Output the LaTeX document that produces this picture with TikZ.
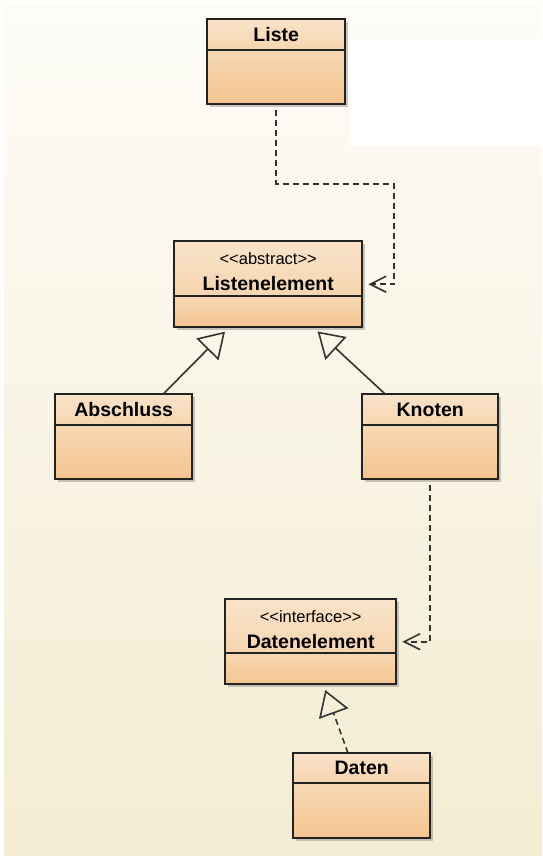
\documentclass[tikz,border=0pt]{standalone}
\usepackage{fontspec}
\setmainfont{Liberation Sans}
\usetikzlibrary{arrows.meta,calc,shadows}

\definecolor{bgtop}{HTML}{FDFCF7}
\definecolor{bgbot}{HTML}{F4ECD2}
\definecolor{headtop}{HTML}{F9E3C9}
\definecolor{headbot}{HTML}{F6D5AF}
\definecolor{bodytop}{HTML}{F7D8B4}
\definecolor{bodybot}{HTML}{F4C48F}
\definecolor{frame}{HTML}{222222}
\definecolor{wire}{HTML}{333333}

\tikzset{
  clsframe/.style={draw=none, fill=bodybot, inner sep=0pt,
    drop shadow={shadow xshift=2.5pt, shadow yshift=-2.5pt, opacity=0.35, fill=black!60}},
  clshead/.style={draw=none, inner sep=0pt, top color=headtop, bottom color=headbot},
  clsbody/.style={draw=none, inner sep=0pt, top color=bodytop, bottom color=bodybot},
  clsline/.style={draw=frame, line width=2pt},
  clsname/.style={font=\fontsize{19.5}{22}\selectfont\bfseries, inner sep=0pt},
  clsstereo/.style={font=\fontsize{16.5}{19}\selectfont, inner sep=0pt, anchor=base},
  gen/.style={draw=wire, line width=1.6pt, shorten >=6pt,
    -{Triangle[open, length=25pt, width=31pt, line width=1.6pt]}},
  realize/.style={gen, dash pattern=on 6pt off 4pt},
  dep/.style={draw=wire, line width=1.6pt, dash pattern=on 6pt off 4pt,
    shorten <=6pt, shorten >=6pt,
    -{Straight Barb[length=16pt, width=16pt, line width=1.6pt]}},
}

% class box: #1 name, #2 x, #3 y, #4 width, #5 header height, #6 body height
\newcommand{\umlbox}[6]{%
  \node[clsframe, minimum width=#4, minimum height=#5+#6, anchor=north west] (#1) at (#2,#3) {};
  \node[clshead, minimum width=#4, minimum height=#5, anchor=north] (#1-h) at (#1.north) {};
  \node[clsbody, minimum width=#4, minimum height=#6, anchor=north] (#1-b) at (#1-h.south) {};
  \draw[clsline] (#1.north west) rectangle (#1.south east);
  \draw[clsline] (#1-h.south west) -- (#1-h.south east);
}

\begin{document}
\begin{tikzpicture}[x=1pt, y=-1pt]
  % page and backdrop
  \fill[white] (0,0) rectangle (542,857);
  \useasboundingbox (0,0) rectangle (542,857);
  \shade[top color=bgtop, bottom color=bgbot] (4,3) rectangle (542,855);
  \fill[white] (349,39) rectangle (542,146);

  % classes
  \umlbox{liste}{207}{19}{138}{31}{54}
  \node[clsname] (liste-n) at (liste-h) {Liste};

  \umlbox{le}{174}{241}{188}{55}{31}
  \node[clsstereo] (le-s) at ($(le.north)+(0,23)$) {<\kern0pt<abstract>\kern0pt>};
  \node[clsname, anchor=base] (le-n) at ($(le.north)+(0,49)$) {Listenelement};

  \umlbox{abs}{55}{394}{137}{31}{54}
  \node[clsname] (abs-n) at (abs-h) {Abschluss};

  \umlbox{kn}{362}{394}{136}{31}{54}
  \node[clsname] (kn-n) at (kn-h) {Knoten};

  \umlbox{de}{225}{599}{171}{54}{31}
  \node[clsstereo] (de-s) at ($(de.north)+(0,23)$) {<\kern0pt<interface>\kern0pt>};
  \node[clsname, anchor=base] (de-n) at ($(de.north)+(0,49)$) {Datenelement};

  \umlbox{dat}{293}{753}{137}{30}{55}
  \node[clsname] (dat-n) at (dat-h) {Daten};

  % dependencies
  \coordinate (bend1) at (394,184);
  \draw[dep] (liste.south) |- (bend1) |- (le.east);
  \draw[dep] (kn.south) |- (de.east);

  % generalizations
  \draw[gen] ($(abs.north west)!0.788!(abs.north east)$) -- ($(le.south west)!0.293!(le.south east)$);
  \draw[gen] ($(kn.north west)!0.169!(kn.north east)$) -- ($(le.south west)!0.739!(le.south east)$);

  % realization
  \draw[realize] ($(dat.north west)!0.40!(dat.north east)$) -- ($(de.south west)!0.573!(de.south east)$);
\end{tikzpicture}
\end{document}
